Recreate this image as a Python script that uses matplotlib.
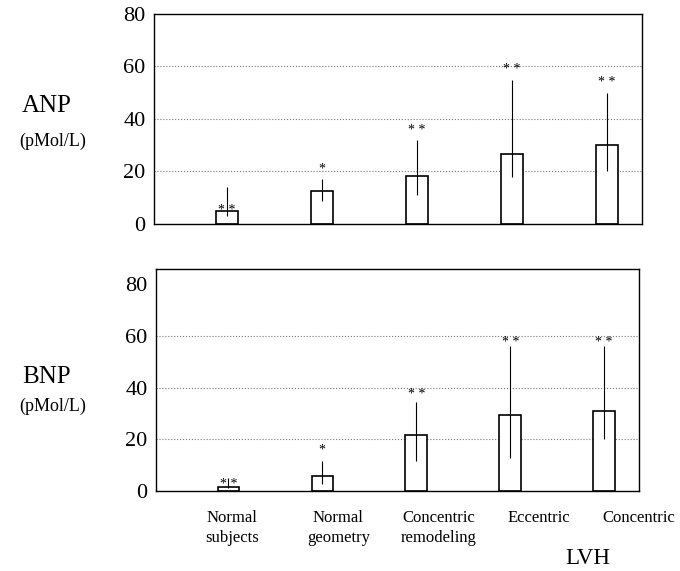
import matplotlib

matplotlib.use("Agg")
import matplotlib.pyplot as plt
import numpy as np

# Data (pMol/L)
categories = ["Normal\nsubjects", "Normal\ngeometry", "Concentric\nremodeling",
              "Eccentric", "Concentric"]
anp_mean = [5.0, 12.5, 18.2, 26.5, 30.0]
anp_err_lo = [2.0, 3.6, 7.2, 8.5, 10.0]
anp_err_hi = [9.0, 4.8, 13.8, 28.5, 20.0]
anp_stars = ["* *", "*", "* *", "* *", "* *"]
anp_star_y = [2.5, 18.5, 33.0, 56.5, 51.5]

bnp_mean = [1.5, 6.0, 21.8, 29.6, 31.0]
bnp_err_lo = [0.5, 3.3, 10.0, 16.9, 11.0]
bnp_err_hi = [3.5, 5.8, 12.8, 26.6, 25.0]
bnp_stars = ["* *", "*", "* *", "* *", "* *"]
bnp_star_y = [0.0, 13.5, 35.0, 55.0, 55.0]

plt.rcParams["font.family"] = ["Liberation Serif", "DejaVu Serif"]

fig = plt.figure(figsize=(6.8, 5.71), dpi=100)
ax_top = fig.add_axes([0.2265, 0.6077, 0.7176, 0.3678])
ax_bot = fig.add_axes([0.2294, 0.1401, 0.7103, 0.3888])

x = np.arange(len(categories))


def draw_panel(ax, mean, lo, hi, stars, star_y, ytop):
    ax.bar(x, mean, width=0.23, color="white", edgecolor="black", lw=1.2, zorder=2)
    ax.errorbar(x, mean, yerr=[lo, hi], fmt="none", ecolor="black",
                elinewidth=0.8, capsize=0, zorder=3)
    for xi, s, sy in zip(x, stars, star_y):
        ax.text(xi, sy, s, ha="center", va="bottom", fontsize=10, zorder=4)
    for g in (20, 40, 60):
        ax.axhline(g, color="#777777", ls=":", lw=0.8, zorder=1)
    ax.set_xlim(-0.77, 4.37)
    ax.set_ylim(0, ytop)
    ax.set_yticks([0, 20, 40, 60, 80])
    ax.tick_params(axis="y", labelsize=16, length=0, pad=6)
    ax.set_xticks([])
    for sp in ax.spines.values():
        sp.set_linewidth(1.0)


draw_panel(ax_top, anp_mean, anp_err_lo, anp_err_hi, anp_stars, anp_star_y, 80)
draw_panel(ax_bot, bnp_mean, bnp_err_lo, bnp_err_hi, bnp_stars, bnp_star_y, 86)

# panel labels
fig.text(47 / 680, 1 - 106 / 571, "ANP", ha="center", va="center", fontsize=18)
fig.text(53 / 680, 1 - 141 / 571, "(pMol/L)", ha="center", va="center", fontsize=13)
fig.text(47 / 680, 1 - 377 / 571, "BNP", ha="center", va="center", fontsize=18)
fig.text(53 / 680, 1 - 406 / 571, "(pMol/L)", ha="center", va="center", fontsize=13)

# category labels under the lower panel
label_x = [0.04, 1.17, 2.24, 3.30, 4.37]
for lx, lab in zip(label_x, categories):
    ax_bot.text(lx, -0.085, lab, transform=ax_bot.get_xaxis_transform(),
                ha="center", va="top", fontsize=12, linespacing=1.35)
ax_bot.text(3.83, -0.255, "LVH", transform=ax_bot.get_xaxis_transform(),
            ha="center", va="top", fontsize=16.5)

fig.savefig("out.png", dpi=100, facecolor="white")
